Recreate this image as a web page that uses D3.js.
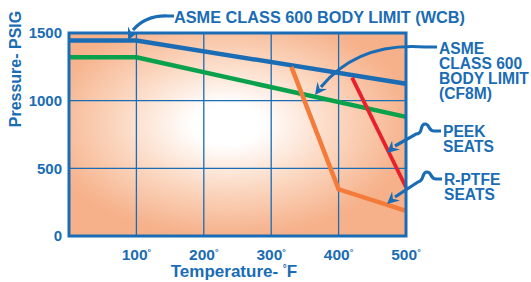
<!DOCTYPE html>
<html lang="en">
<head>
<meta charset="utf-8">
<title>Pressure / Temperature rating</title>
<style>
    body { margin: 0; background: #fff; }
    text { font-family: "Liberation Sans", Arial, sans-serif; font-weight: bold; fill: #1a6cb4; }
    .grid line { stroke: #1a6cb4; stroke-width: 1.3; }
    .series { fill: none; stroke-linejoin: miter; }
</style>
</head>
<body>
<svg width="531" height="282"></svg>
<script src="https://cdn.jsdelivr.net/npm/d3@7"></script>
<script>
    // data
    const xTicks = [100, 200, 300, 400, 500];
    const yTicks = [0, 500, 1000, 1500];
    const wcb = [[0, 1445], [100, 1445], [500, 1125]];
    const cf8m = [[0, 1320], [100, 1320], [500, 880]];
    const peek = [[420, 1170], [500, 360]];
    const ptfe = [[330, 1250], [400, 345], [500, 185]];

    const blue = "#1a6cb4";
    const margin = {top: 33, left: 69, right: 125, bottom: 46};
    const width = 531 - margin.left - margin.right,
        height = 282 - margin.top - margin.bottom;

    const x = d3.scaleLinear().domain([0, 500]).range([0, width]);
    const y = d3.scaleLinear().domain([0, 1500]).range([height, 0]);

    const svg = d3.select("svg");
    const defs = svg.append("defs");
    // elliptical glow, white in the middle, salmon towards the border
    const grad = defs.append("radialGradient")
        .attr("id", "bg")
        .attr("cx", 0.47).attr("cy", 0.45).attr("r", 0.56);
    grad.append("stop").attr("offset", 0).attr("stop-color", "#ffffff");
    grad.append("stop").attr("offset", 0.18).attr("stop-color", "#ffffff");
    grad.append("stop").attr("offset", 0.6).attr("stop-color", "#fbd5bd");
    grad.append("stop").attr("offset", 0.95).attr("stop-color", "#f6b48f");
    grad.append("stop").attr("offset", 1).attr("stop-color", "#f6b18b");

    const g = svg.append("g")
        .attr("transform", "translate(" + margin.left + "," + margin.top + ")");

    g.append("rect")
        .attr("width", width).attr("height", height)
        .attr("fill", "url(#bg)");

    // grid
    const grid = g.append("g").attr("class", "grid");
    grid.selectAll(".vx").data(xTicks.slice(0, -1)).enter().append("line")
        .attr("x1", d => x(d)).attr("x2", d => x(d))
        .attr("y1", 0).attr("y2", height);
    grid.selectAll(".hy").data(yTicks.slice(1, -1)).enter().append("line")
        .attr("y1", d => y(d)).attr("y2", d => y(d))
        .attr("x1", 0).attr("x2", width);

    // series
    const line = d3.line().x(d => x(d[0])).y(d => y(d[1]));
    const series = [
        {data: cf8m, color: "#0aa14c", w: 4.5},
        {data: wcb, color: blue, w: 4.5},
        {data: ptfe, color: "#f47b3a", w: 4.5},
        {data: peek, color: "#e8202b", w: 3.8}
    ];
    g.selectAll(".series").data(series).enter().append("path")
        .attr("class", "series")
        .attr("d", d => line(d.data))
        .attr("stroke", d => d.color)
        .attr("stroke-width", d => d.w);

    // border
    g.append("rect")
        .attr("width", width).attr("height", height)
        .attr("fill", "none").attr("stroke", blue).attr("stroke-width", 3);

    // tick labels
    const xl = g.append("g").selectAll("text").data(xTicks).enter().append("text")
        .attr("x", d => x(d)).attr("y", height + 24)
        .attr("text-anchor", "middle")
        .style("font-size", "15.5px");
    xl.append("tspan").text(d => d);
    xl.append("tspan").text("°").attr("font-size", "9px").attr("dy", -5);

    g.append("g").selectAll("text").data(yTicks).enter().append("text")
        .attr("x", -7).attr("y", d => y(d))
        .attr("dy", "0.36em")
        .attr("text-anchor", "end")
        .style("font-size", "15px")
        .text(d => d);

    // axis titles
    const xt = svg.append("text")
        .attr("x", 234).attr("y", 277)
        .attr("text-anchor", "middle")
        .style("font-size", "17px");
    xt.append("tspan").text("Temperature- ");
    xt.append("tspan").text("°").attr("font-size", "10px").attr("dy", -5);
    xt.append("tspan").text("F").attr("dy", 5);

    svg.append("text")
        .attr("transform", "translate(20.5,69) rotate(-90)")
        .attr("text-anchor", "middle")
        .style("font-size", "16px")
        .text("Pressure- PSIG");

    // callouts
    const callouts = [
        {lines: ["ASME CLASS 600 BODY LIMIT (WCB)"], x: 174, y: 23, size: 16.3,
            path: "M174,16 L168,16 Q146,15 133,30", tip: [128, 40]},
        {lines: ["ASME", "CLASS 600", "BODY LIMIT", "(CF8M)"], x: 439, y: 54, size: 15.6,
            path: "M437,47 L425,47 Q358,42 321,87", tip: [315, 95]},
        {lines: ["PEEK", "SEATS"], x: 443, y: 137, size: 15.6,
            path: "M441,131 L434,131 C428,131 430,124 425,124 C419,124 424,134 416,134 L395,146", tip: [387, 153]},
        {lines: ["R-PTFE", "SEATS"], x: 444, y: 185, size: 15.6,
            path: "M442,179 L436,179 C430,179 432,172 427,172 C421,172 425,181 418,182 L395,197", tip: [387, 204]}
    ];
    callouts.forEach(c => {
        c.lines.forEach((s, i) => {
            svg.append("text").attr("x", c.x).attr("y", c.y + i * 15)
                .style("font-size", c.size + "px").text(s);
        });
        svg.append("path").attr("d", c.path)
            .attr("fill", "none").attr("stroke", blue).attr("stroke-width", 3.2);
        // arrow head pointing from last path point to tip
        const nums = c.path.match(/-?[\d.]+/g).map(Number);
        const px = nums[nums.length - 2], py = nums[nums.length - 1];
        const ang = Math.atan2(c.tip[1] - py, c.tip[0] - px);
        const L = 12, W = 6;
        const bx = c.tip[0] - L * Math.cos(ang), by = c.tip[1] - L * Math.sin(ang);
        const nx = -Math.sin(ang) * W, ny = Math.cos(ang) * W;
        svg.append("path")
            .attr("d", "M" + c.tip[0] + "," + c.tip[1] + " L" + (bx + nx) + "," + (by + ny) +
                " L" + (bx + 0.35 * L * Math.cos(ang)) + "," + (by + 0.35 * L * Math.sin(ang)) +
                " L" + (bx - nx) + "," + (by - ny) + "Z")
            .attr("fill", blue);
    });
</script>
</body>
</html>
